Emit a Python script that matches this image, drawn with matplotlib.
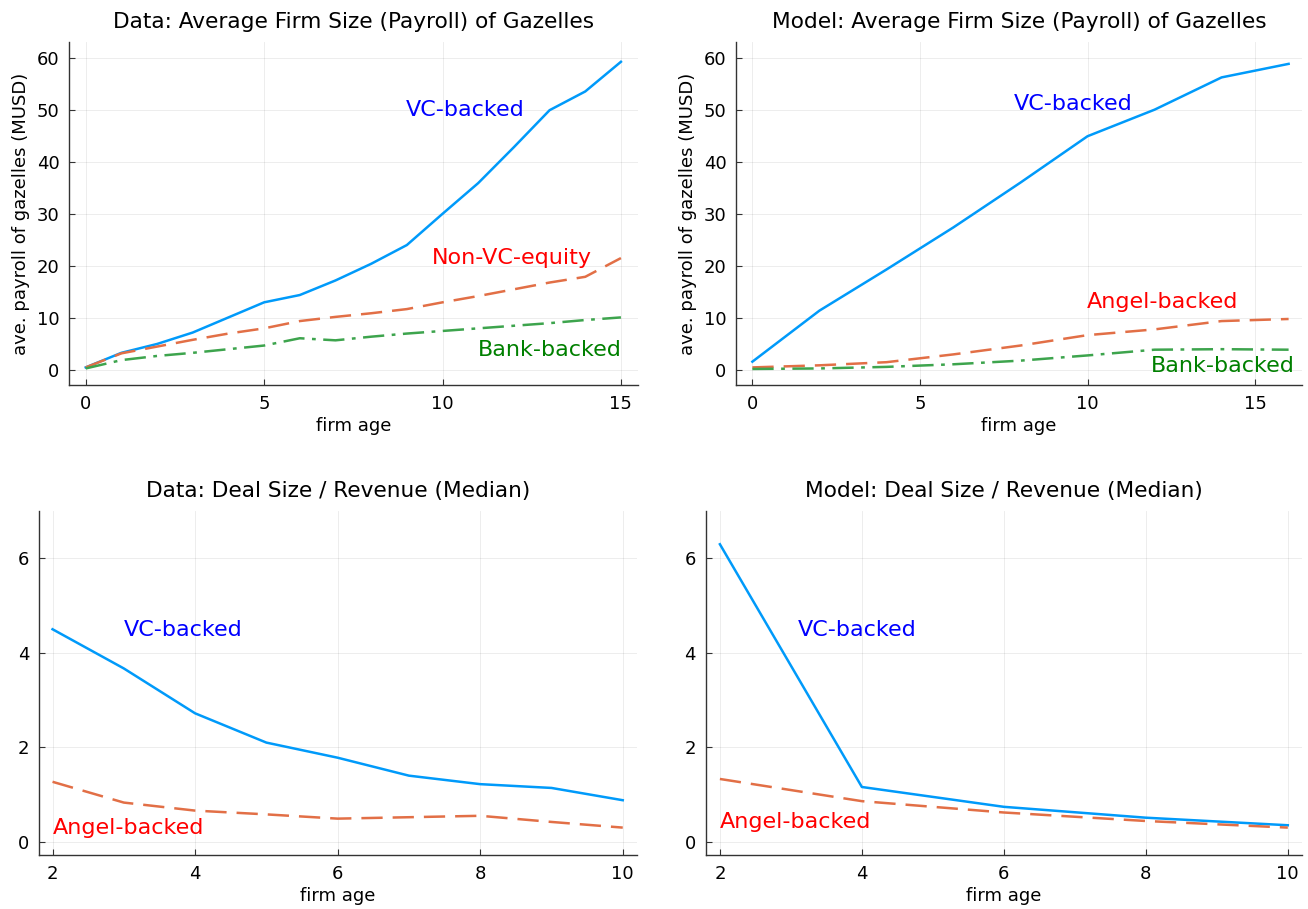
import numpy as np
import matplotlib.pyplot as plt

# firm size (payroll, MUSD) -- data panel
age_data = list(range(0, 16))
vc_data = [0.5, 3.3, 5.0, 7.2, 10.1, 13.0, 14.4, 17.2, 20.4, 24.0, 30.0, 35.9, 42.8, 49.9, 53.5, 59.2]
nonvc_data = [0.5, 3.2, 4.5, 5.8, 7.0, 8.0, 9.4, 10.2, 10.9, 11.7, 13.0, 14.2, 15.5, 16.8, 17.9, 21.5]
bank_data = [0.3, 1.9, 2.7, 3.3, 4.0, 4.7, 6.1, 5.7, 6.4, 7.0, 7.5, 8.0, 8.5, 9.0, 9.6, 10.1]

# firm size -- model panel
age_model = [0, 2, 4, 6, 8, 10, 12, 14, 16]
vc_model = [1.6, 11.4, 19.3, 27.4, 36.0, 44.9, 50.0, 56.2, 58.8]
angel_model = [0.5, 0.9, 1.5, 3.0, 4.7, 6.7, 7.8, 9.4, 9.8]
bank_model = [0.2, 0.3, 0.6, 1.1, 1.8, 2.8, 3.9, 4.0, 3.9]

# deal size / revenue (median)
age_deal_data = list(range(2, 11))
vc_deal_data = [4.50, 3.67, 2.72, 2.10, 1.78, 1.40, 1.22, 1.14, 0.88]
angel_deal_data = [1.27, 0.83, 0.66, 0.58, 0.49, 0.52, 0.55, 0.42, 0.30]

age_deal_model = [2, 4, 6, 8, 10]
vc_deal_model = [6.30, 1.16, 0.74, 0.51, 0.35]
angel_deal_model = [1.33, 0.86, 0.62, 0.44, 0.30]

blue = '#009AFA'
orange = '#E26F46'
green = '#3DA44D'
dash = (0, (8.5, 4))
dashdot = (0, (8.5, 3, 1.5, 3))
lw = 1.8
title_fs = 15.6
tick_fs = 13
lab_fs = 13
note_fs = 16

W, H = 1308, 909
fig = plt.figure(figsize=(W / 100, H / 100), dpi=100)


def make_axes(left, right, top, bottom):
    return fig.add_axes([left / W, 1 - bottom / H, (right - left) / W, (bottom - top) / H])


def style(ax):
    for s in ['top', 'right']:
        ax.spines[s].set_visible(False)
    for s in ['left', 'bottom']:
        ax.spines[s].set_color('#333333')
        ax.spines[s].set_linewidth(1.0)
    ax.tick_params(direction='in', length=4, width=0.8, color='#333333',
                   labelsize=tick_fs, pad=7)
    ax.grid(True, color='black', alpha=0.07, linewidth=0.7)
    ax.set_axisbelow(True)


ax1 = make_axes(69.3, 637.7, 42, 385)
ax2 = make_axes(736.3, 1302, 42, 385)
ax3 = make_axes(39, 637, 510.7, 855)
ax4 = make_axes(705.7, 1302, 510.7, 855)

# top left
ax1.plot(age_data, vc_data, color=blue, lw=lw)
ax1.plot(age_data, nonvc_data, color=orange, lw=lw, linestyle=dash)
ax1.plot(age_data, bank_data, color=green, lw=lw, linestyle=dashdot)
ax1.set_xlim(-0.46, 15.47)
ax1.set_ylim(-2.88, 63.0)
ax1.set_xticks([0, 5, 10, 15])
ax1.set_yticks([0, 10, 20, 30, 40, 50, 60])
ax1.set_title('Data: Average Firm Size (Payroll) of Gazelles', fontsize=title_fs, pad=10)
ax1.set_xlabel('firm age', fontsize=lab_fs, labelpad=3)
ax1.set_ylabel('ave. payroll of gazelles (MUSD)', fontsize=lab_fs, labelpad=5)
ax1.text(10.64, 50.0, 'VC-backed', color='blue', fontsize=note_fs, ha='center', va='center')
ax1.text(11.94, 21.5, 'Non-VC-equity', color='red', fontsize=note_fs, ha='center', va='center')
ax1.text(13.0, 3.9, 'Bank-backed', color='green', fontsize=note_fs, ha='center', va='center')

# top right
ax2.plot(age_model, vc_model, color=blue, lw=lw)
ax2.plot(age_model, angel_model, color=orange, lw=lw, linestyle=dash)
ax2.plot(age_model, bank_model, color=green, lw=lw, linestyle=dashdot)
ax2.set_xlim(-0.48, 16.4)
ax2.set_ylim(-2.88, 63.0)
ax2.set_xticks([0, 5, 10, 15])
ax2.set_yticks([0, 10, 20, 30, 40, 50, 60])
ax2.set_title('Model: Average Firm Size (Payroll) of Gazelles', fontsize=title_fs, pad=10)
ax2.set_xlabel('firm age', fontsize=lab_fs, labelpad=3)
ax2.set_ylabel('ave. payroll of gazelles (MUSD)', fontsize=lab_fs, labelpad=5)
ax2.text(9.56, 51.1, 'VC-backed', color='blue', fontsize=note_fs, ha='center', va='center')
ax2.text(12.23, 13.1, 'Angel-backed', color='red', fontsize=note_fs, ha='center', va='center')
ax2.text(14.05, 0.8, 'Bank-backed', color='green', fontsize=note_fs, ha='center', va='center')

# bottom left
ax3.plot(age_deal_data, vc_deal_data, color=blue, lw=lw)
ax3.plot(age_deal_data, angel_deal_data, color=orange, lw=lw, linestyle=dash)
ax3.set_xlim(1.81, 10.2)
ax3.set_ylim(-0.28, 7.01)
ax3.set_xticks([2, 4, 6, 8, 10])
ax3.set_yticks([0, 2, 4, 6])
ax3.set_title('Data: Deal Size / Revenue (Median)', fontsize=title_fs, pad=10)
ax3.set_xlabel('firm age', fontsize=lab_fs, labelpad=3)
ax3.text(3.83, 4.48, 'VC-backed', color='blue', fontsize=note_fs, ha='center', va='center')
ax3.text(3.06, 0.29, 'Angel-backed', color='red', fontsize=note_fs, ha='center', va='center')

# bottom right
ax4.plot(age_deal_model, vc_deal_model, color=blue, lw=lw)
ax4.plot(age_deal_model, angel_deal_model, color=orange, lw=lw, linestyle=dash)
ax4.set_xlim(1.8, 10.2)
ax4.set_ylim(-0.28, 7.01)
ax4.set_xticks([2, 4, 6, 8, 10])
ax4.set_yticks([0, 2, 4, 6])
ax4.set_title('Model: Deal Size / Revenue (Median)', fontsize=title_fs, pad=10)
ax4.set_xlabel('firm age', fontsize=lab_fs, labelpad=3)
ax4.text(3.93, 4.48, 'VC-backed', color='blue', fontsize=note_fs, ha='center', va='center')
ax4.text(3.06, 0.42, 'Angel-backed', color='red', fontsize=note_fs, ha='center', va='center')

for ax in [ax1, ax2, ax3, ax4]:
    style(ax)

fig.savefig('out.png', dpi=100, facecolor='white')
